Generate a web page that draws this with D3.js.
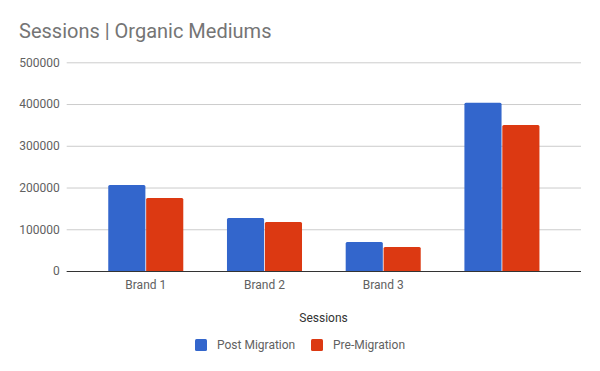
<!DOCTYPE html>
<html><head><meta charset="utf-8">
<script src="https://cdn.jsdelivr.net/npm/d3@7"></script>
<style>body{margin:0;background:#fff;}svg{display:block;font-family:Roboto,"Noto Sans",sans-serif;}</style>
</head><body>
<script>
const categories = ["Brand 1", "Brand 2", "Brand 3", ""];
const seriesNames = ["Post Migration", "Pre-Migration"];
const postMigration = [206000, 127000, 69500, 403000];
const preMigration = [175000, 117500, 57500, 350000];
const yTicks = [0, 100000, 200000, 300000, 400000, 500000];
const colors = ["#3366cc", "#dc3912"];

(function(){
const W = 600, H = 371;
const svg = d3.select("body").append("svg").attr("width", W).attr("height", H);
svg.append("rect").attr("width", W).attr("height", H).attr("fill", "#fff");

const pLeft = 66.7, pRight = 581, pTop = 62.3, pBottom = 271;
const y = d3.scaleLinear().domain([0, 500000]).range([pBottom, pTop]);
const x = d3.scaleBand().domain(categories.map((c,i)=>i)).range([pLeft, pRight]).paddingInner(0.368).paddingOuter(0.35);
const xs = d3.scaleBand().domain([0,1]).range([0, x.bandwidth()]).paddingInner(0.02);

svg.append("text").attr("x", 19).attr("y", 38).attr("font-size", 20).attr("fill", "#757575").text("Sessions | Organic Mediums");

const yAxis = d3.axisLeft(y).tickValues(yTicks).tickSize(-(pRight-pLeft)).tickFormat(d3.format("d")).tickPadding(7);
const gy = svg.append("g").attr("transform", `translate(${pLeft},0)`).call(yAxis);
gy.select(".domain").remove();
gy.selectAll(".tick line").attr("stroke", "#cccccc");
gy.selectAll(".tick text").attr("font-size", 12).attr("fill", "#616161").attr("font-family", "Roboto");

const data = categories.map((c,i)=>({i, vals:[postMigration[i], preMigration[i]]}));
const g = svg.append("g");
data.forEach(d => {
  d.vals.forEach((v,k) => {
    g.append("rect")
      .attr("x", x(d.i) + xs(k))
      .attr("y", y(v))
      .attr("width", xs.bandwidth())
      .attr("height", y(0) - y(v) + 1)
      .attr("rx", 1.5)
      .attr("fill", colors[k]);
  });
});

svg.append("line").attr("x1", pLeft).attr("x2", pRight).attr("y1", y(0)+0.5).attr("y2", y(0)+0.5).attr("stroke", "#333").attr("stroke-width", 1);

const xAxis = d3.axisBottom(x).tickSize(0).tickPadding(9).tickFormat(i => categories[i]);
const gx = svg.append("g").attr("transform", `translate(0,${y(0)})`).call(xAxis);
gx.select(".domain").remove();
gx.selectAll(".tick text").attr("font-size", 12).attr("fill", "#616161").attr("font-family", "Roboto");

svg.append("text").attr("x", 323.5).attr("y", 322).attr("text-anchor", "middle").attr("font-size", 12).attr("fill", "#333").text("Sessions");

const legX = [195, 311];
seriesNames.forEach((n,k) => {
  svg.append("rect").attr("x", legX[k]).attr("y", 339).attr("width", 12).attr("height", 12).attr("rx", 1.5).attr("fill", colors[k]);
  svg.append("text").attr("x", legX[k] + 22).attr("y", 349).attr("font-size", 12).attr("fill", "#616161").text(n);
});
})();
</script>
</body></html>
